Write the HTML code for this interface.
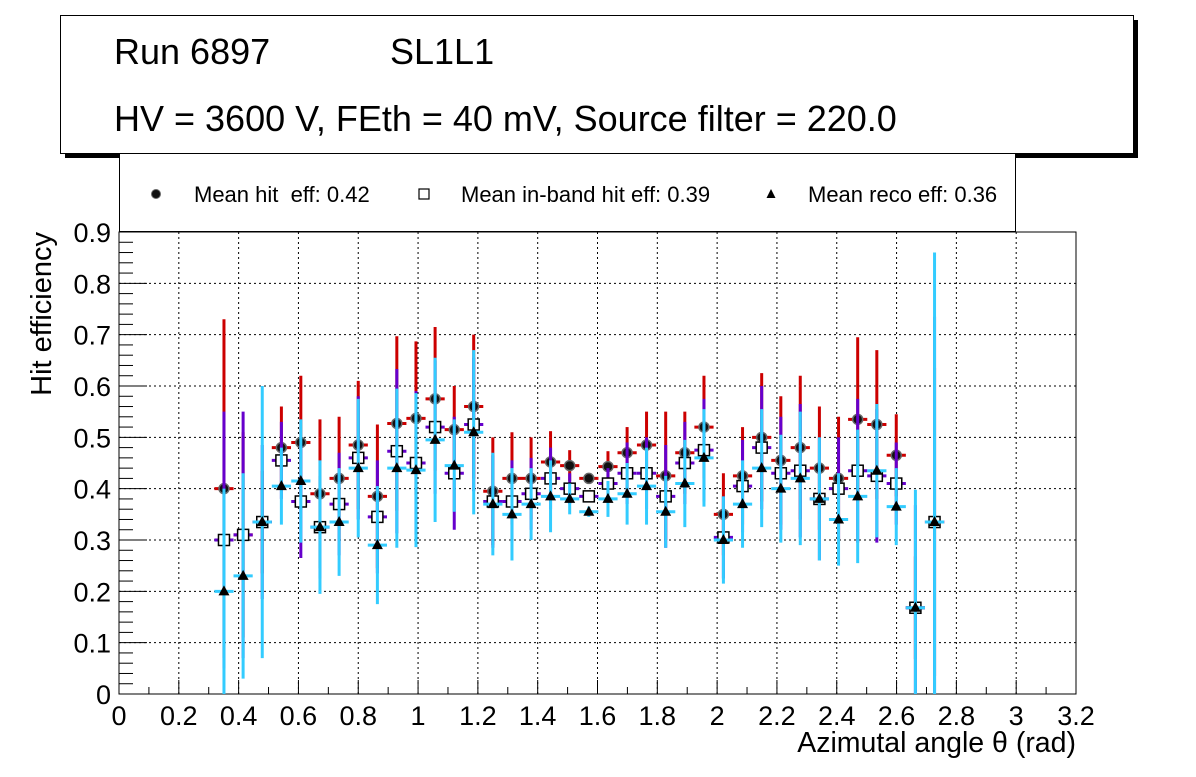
<!DOCTYPE html>
<html><head><meta charset="utf-8"><style>
body{margin:0;background:#fff;width:1196px;height:772px;overflow:hidden;font-family:"Liberation Sans",sans-serif}
</style></head><body>
<svg id="c" width="1196" height="772" xmlns="http://www.w3.org/2000/svg" font-family="Liberation Sans, sans-serif"></svg>
<script>
const xCenters=[0.351,0.415,0.479,0.543,0.608,0.672,0.736,0.800,0.864,0.929,0.993,1.057,1.121,1.186,1.250,1.314,1.378,1.443,1.507,1.571,1.635,1.699,1.764,1.828,1.892,1.956,2.021,2.085,2.149,2.213,2.278,2.342,2.406,2.470,2.534,2.599,2.663,2.727];
const hitVals=[0.40,0.31,0.335,0.48,0.49,0.39,0.42,0.485,0.385,0.527,0.537,0.575,0.515,0.56,0.395,0.42,0.42,0.452,0.445,0.42,0.443,0.47,0.485,0.425,0.47,0.52,0.35,0.425,0.50,0.455,0.48,0.44,0.42,0.535,0.525,0.465,0.168,0.335];
const hitErrs=[0.33,0.2,0.1,0.08,0.13,0.145,0.12,0.125,0.14,0.17,0.15,0.14,0.085,0.14,0.105,0.09,0.08,0.06,0.03,0.01,0.03,0.05,0.065,0.125,0.08,0.1,0.08,0.095,0.125,0.125,0.14,0.12,0.12,0.16,0.145,0.08,0.1,0.3];
const inbVals=[0.30,0.31,0.335,0.455,0.375,0.325,0.37,0.46,0.345,0.473,0.45,0.52,0.43,0.525,0.375,0.375,0.39,0.42,0.40,0.385,0.41,0.43,0.43,0.385,0.45,0.475,0.305,0.405,0.48,0.43,0.435,0.38,0.40,0.435,0.425,0.41,0.168,0.335];
const inbErrs=[0.25,0.24,0.15,0.075,0.11,0.1,0.1,0.12,0.11,0.16,0.14,0.13,0.11,0.13,0.09,0.08,0.07,0.06,0.03,0.01,0.03,0.06,0.07,0.1,0.08,0.1,0.08,0.09,0.12,0.11,0.13,0.12,0.1,0.14,0.13,0.08,0.2,0.4];
const recoVals=[0.20,0.23,0.335,0.405,0.415,0.325,0.335,0.44,0.29,0.44,0.436,0.495,0.445,0.51,0.37,0.35,0.37,0.385,0.38,0.355,0.38,0.39,0.405,0.355,0.41,0.46,0.30,0.37,0.44,0.40,0.42,0.38,0.34,0.385,0.435,0.365,0.168,0.335];
const recoErrs=[0.2,0.2,0.265,0.075,0.12,0.13,0.105,0.135,0.115,0.155,0.15,0.16,0.09,0.16,0.1,0.09,0.07,0.07,0.03,0.01,0.035,0.06,0.075,0.07,0.085,0.095,0.085,0.085,0.115,0.105,0.13,0.12,0.09,0.13,0.13,0.075,0.23,0.525];
const xTicks=[0,0.2,0.4,0.6,0.8,1,1.2,1.4,1.6,1.8,2,2.2,2.4,2.6,2.8,3,3.2];
const yTicks=[0,0.1,0.2,0.3,0.4,0.5,0.6,0.7,0.8,0.9];
const X0=119,X1=1076,Y0=694,Y1=232;
const xs=v=>X0+(v/3.2)*(X1-X0);
const ys=v=>{v=Math.max(0,Math.min(0.9,v));return Y0-(v/0.9)*(Y0-Y1);};
const svg=document.getElementById('c');
const NS='http://www.w3.org/2000/svg';
function mk(tag,attrs,parent,name){const e=document.createElementNS(NS,tag);for(const k in attrs)e.setAttribute(k,attrs[k]);


(parent||svg).appendChild(e);return e;}
// title box
mk('rect',{x:65,y:20,width:1073,height:138,fill:'#000'},svg,'title-box-shadow');
mk('rect',{x:60.5,y:15.5,width:1073,height:138,fill:'#fff',stroke:'#000','stroke-width':1},svg,'title-box');
let t=mk('text',{x:114,y:64,'font-size':36},svg,'run-label');t.textContent='Run 6897';
t=mk('text',{x:390,y:64,'font-size':36},svg,'layer-label');t.textContent='SL1L1';
t=mk('text',{x:114,y:131,'font-size':36},svg,'settings-label');t.textContent='HV = 3600 V, FEth = 40 mV, Source filter = 220.0';
// legend
mk('rect',{x:119.5,y:153.5,width:896,height:78,fill:'#fff',stroke:'#000','stroke-width':1},svg,'legend-box');
// grid
for(const v of xTicks){if(v>0&&v<3.2)mk('line',{x1:xs(v),x2:xs(v),y1:Y1,y2:Y0,stroke:'#000','stroke-dasharray':'2,3','stroke-width':1},svg,'x-grid-line');}
for(const v of yTicks){if(v>0&&v<0.9)mk('line',{x1:X0,x2:X1,y1:ys(v),y2:ys(v),stroke:'#000','stroke-dasharray':'2,3','stroke-width':1},svg,'y-grid-line');}
mk('rect',{x:X0,y:Y1,width:X1-X0,height:Y0-Y1,fill:'none',stroke:'#000','stroke-width':1},svg,'plot-frame');
// ticks
for(let i=0;i<=32;i++){const v=i*0.1,x=xs(v);const major=i%2==0;mk('line',{x1:x,x2:x,y1:Y0,y2:Y0-(major?14:7),stroke:'#000'},svg,'x-tick');}
for(const v of xTicks){t=mk('text',{x:xs(v),y:725,'font-size':27,'text-anchor':'middle'},svg,'x-tick-label');t.textContent=String(v);}
for(let i=0;i<=45;i++){const v=i*0.02,y=ys(v);const major=i%5==0;mk('line',{x1:X0,x2:X0+(major?28:14),y1:y,y2:y,stroke:'#000'},svg,'y-tick');}
for(const v of yTicks){t=mk('text',{x:111,y:ys(v)+10,'font-size':27,'text-anchor':'end'},svg,'y-tick-label');t.textContent=String(v);}
t=mk('text',{x:0,y:0,'font-size':29,'text-anchor':'end',transform:'translate(51,232) rotate(-90)'},svg,'y-axis-title');t.textContent='Hit efficiency';
t=mk('text',{x:1076,y:752,'font-size':28.5,'text-anchor':'end'},svg,'x-axis-title');t.textContent='Azimutal angle θ (rad)';
// series
const hw=9.6;
function bars(vals,errs,col,name){const g=mk('g',{},svg,name+'-series');
vals.forEach((v,i)=>{const x=xs(xCenters[i]);
mk('line',{x1:x,x2:x,y1:ys(v+errs[i]),y2:ys(v-errs[i]),stroke:col,'stroke-width':3},g,name+'-error-bar');
mk('line',{x1:x-hw,x2:x+hw,y1:ys(v),y2:ys(v),stroke:col,'stroke-width':3},g,name+'-bin-width');});return g;}
const gh=bars(hitVals,hitErrs,'#cc0000','hit');
const gi=bars(inbVals,inbErrs,'#6600cc','inband');
const gr=bars(recoVals,recoErrs,'#33ccff','reco');
hitVals.forEach((v,i)=>{mk('circle',{cx:xs(xCenters[i]),cy:ys(v),r:5,fill:'#111',stroke:'#666','stroke-width':1.5},gh,'hit-point');});
inbVals.forEach((v,i)=>{mk('rect',{x:xs(xCenters[i])-5.5,y:ys(v)-5.5,width:11,height:11,fill:'#fff',stroke:'#000','stroke-width':1.5},gi,'inband-point');});
recoVals.forEach((v,i)=>{const x=xs(xCenters[i]),y=ys(v);mk('polygon',{points:`${x},${y-6} ${x-5.5},${y+4} ${x+5.5},${y+4}`,fill:'#000'},gr,'reco-point');});
// legend entries
mk('circle',{cx:156,cy:194,r:4.5,fill:'#111',stroke:'#666'},svg,'legend-hit-marker');
t=mk('text',{x:194,y:202,'font-size':22,'xml:space':'preserve'},svg,'legend-hit-label');t.setAttribute('style','white-space:pre');t.textContent='Mean hit  eff: 0.42';
mk('rect',{x:419,y:189,width:10,height:10,fill:'#fff',stroke:'#000','stroke-width':1.2},svg,'legend-inband-marker');
t=mk('text',{x:461,y:202,'font-size':22},svg,'legend-inband-label');t.textContent='Mean in-band hit eff: 0.39';
mk('polygon',{points:'771,189 766.5,198 775.5,198',fill:'#000'},svg,'legend-reco-marker');
t=mk('text',{x:808,y:202,'font-size':22},svg,'legend-reco-label');t.textContent='Mean reco eff: 0.36';
</script>
</body></html>
